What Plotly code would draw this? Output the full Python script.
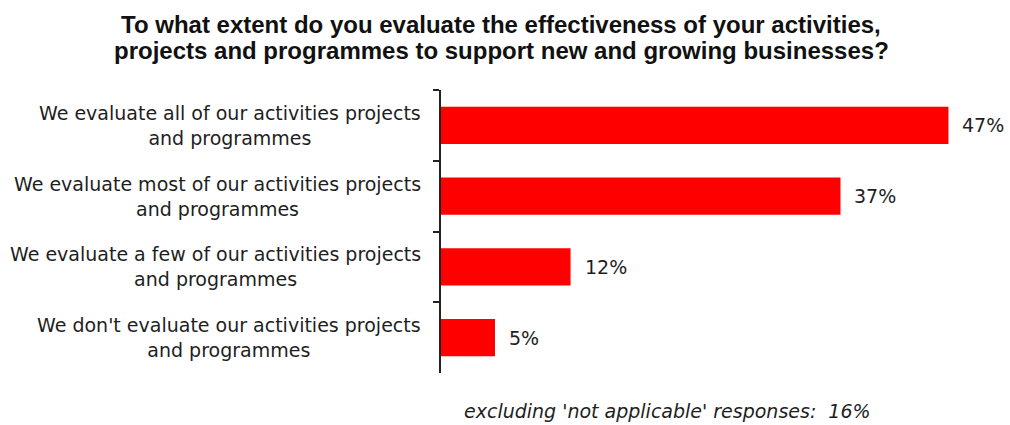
import plotly.graph_objects as go

# Survey responses (share of respondents, %)
categories = [
    "We evaluate all of our activities projects<br>and programmes",
    "We evaluate most of our activities projects<br>and programmes",
    "We evaluate a few of our activities projects<br>and programmes",
    "We don't evaluate our activities projects<br>and programmes",
]
values = [47, 37, 12, 5]
value_labels = ["47%", "37%", "12%", "5%"]

title_lines = [
    "To what extent do you evaluate the effectiveness of your activities,",
    "projects and programmes to support new and growing businesses?",
]
footnote_text = "excluding 'not applicable' responses:&nbsp; 16%"

BODY_FONT = "DejaVu Sans, Verdana, sans-serif"
TITLE_FONT = "Liberation Sans, Arial, sans-serif"
TEXT_COLOR = "#1e1e1e"

PLOT_LEFT, PLOT_TOP, PLOT_BOTTOM = 441, 90, 52
PLOT_W = 1010 - PLOT_LEFT

fig = go.Figure()
fig.add_trace(go.Bar(
    x=values,
    y=categories,
    orientation="h",
    marker=dict(color="#ff0000", line=dict(width=0)),
    hoverinfo="skip",
))

# value labels to the right of each bar
for cat, v, lab in zip(categories, values, value_labels):
    fig.add_annotation(
        x=v, y=cat, xref="x", yref="y", text=lab, showarrow=False,
        xanchor="left", yanchor="middle", xshift=12,
        font=dict(family=BODY_FONT, size=19, color=TEXT_COLOR),
    )

# category labels, centred lines, right-aligned against the axis
for cat in categories:
    fig.add_annotation(
        x=0, y=cat, xref="paper", yref="y", text=cat, showarrow=False,
        xanchor="right", yanchor="middle", align="center", xshift=-18,
        font=dict(family=BODY_FONT, size=19, color=TEXT_COLOR),
    )

# two-line bold title above the plot, centred on the page
title_x = (501 - PLOT_LEFT) / PLOT_W
for i, line in enumerate(title_lines):
    fig.add_annotation(
        x=title_x, y=1, xref="paper", yref="paper", text=line, showarrow=False,
        xanchor="center", yanchor="middle", yshift=PLOT_TOP - (24 + 26 * i),
        font=dict(family=TITLE_FONT, size=24, color="#111111", weight="bold"),
    )

# footnote below the plot area
fig.add_annotation(
    x=(667 - PLOT_LEFT) / PLOT_W, y=0, xref="paper", yref="paper",
    text=footnote_text, showarrow=False,
    xanchor="center", yanchor="middle", yshift=-38,
    font=dict(family=BODY_FONT, size=19, color=TEXT_COLOR, style="italic"),
)

fig.update_layout(
    width=1010, height=425,
    margin=dict(l=PLOT_LEFT, r=0, t=PLOT_TOP, b=PLOT_BOTTOM),
    paper_bgcolor="white", plot_bgcolor="white",
    showlegend=False,
    bargap=0.47,
    xaxis=dict(range=[0, 52.7], visible=False, fixedrange=True),
    yaxis=dict(
        type="category", autorange="reversed",
        showticklabels=False, showgrid=False, zeroline=False,
        showline=True, linecolor="#222222", linewidth=1.5,
        ticks="outside", tickson="boundaries", ticklen=6, tickcolor="#222222", tickwidth=1.5,
        fixedrange=True,
    ),
)

fig.write_html("out.html")
